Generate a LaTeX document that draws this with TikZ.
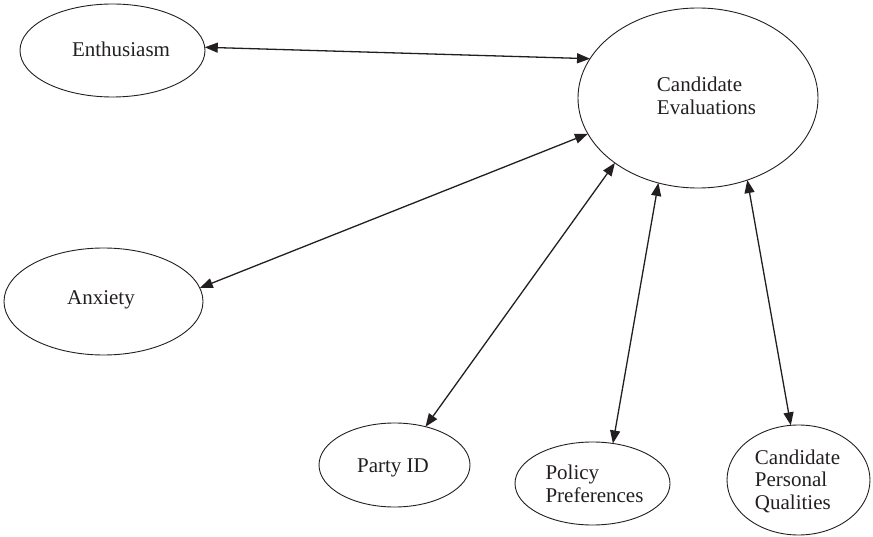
\documentclass[tikz,border=0pt]{standalone}
\usepackage{fontspec}
\setmainfont{Liberation Serif}
\usetikzlibrary{shapes.geometric,arrows.meta}
\definecolor{ink}{RGB}{35,31,32}
\begin{document}
\begin{tikzpicture}[x=1pt,y=-1pt,
  oval/.style={draw=ink, ellipse, line width=0.9pt, inner sep=0pt, outer sep=0pt},
  lbl/.style={font=\fontsize{21}{22.5}\selectfont, align=left, inner sep=0pt, text=ink},
  link/.style={draw=ink, line width=1.3pt, {Triangle[length=13pt,width=10pt,fill=ink]}-{Triangle[length=13pt,width=10pt,fill=ink]}}
]
\useasboundingbox (0,0) rectangle (873,537);
\node[oval, minimum width=185pt, minimum height=93pt] (en) at (112.5,50.5) {};
\node[oval, minimum width=240pt, minimum height=180pt] (ce) at (698,98) {};
\node[oval, minimum width=199pt, minimum height=107pt] (ax) at (103.5,301.5) {};
\node[oval, minimum width=151pt, minimum height=84pt] (pid) at (394.5,465) {};
\node[oval, minimum width=155pt, minimum height=83pt] (pol) at (592.5,483.5) {};
\node[oval, minimum width=143pt, minimum height=110pt] (cpq) at (798.5,480) {};

\node[lbl] (en-t) at (121,49) {Enthusiasm};
\node[lbl] (ce-t) at (706.5,96) {Candidate\\Evaluations};
\node[lbl] (ax-t) at (101,300) {Anxiety};
\node[lbl] (pid-t) at (393,468) {Party ID};
\node[lbl] (pol-t) at (594.5,484) {Policy\\Preferences};
\node[lbl] (cpq-t) at (797.5,481) {Candidate\\Personal\\Qualities};

\draw[link] (en.2) -- (ce.160);
\draw[link] (ax.8) -- (ce.198);
\draw[link] (pid.51) -- (ce.218);
\draw[link] (pol.63) -- (ce.245);
\draw[link] (cpq.98) -- (ce.301);
\end{tikzpicture}
\end{document}
